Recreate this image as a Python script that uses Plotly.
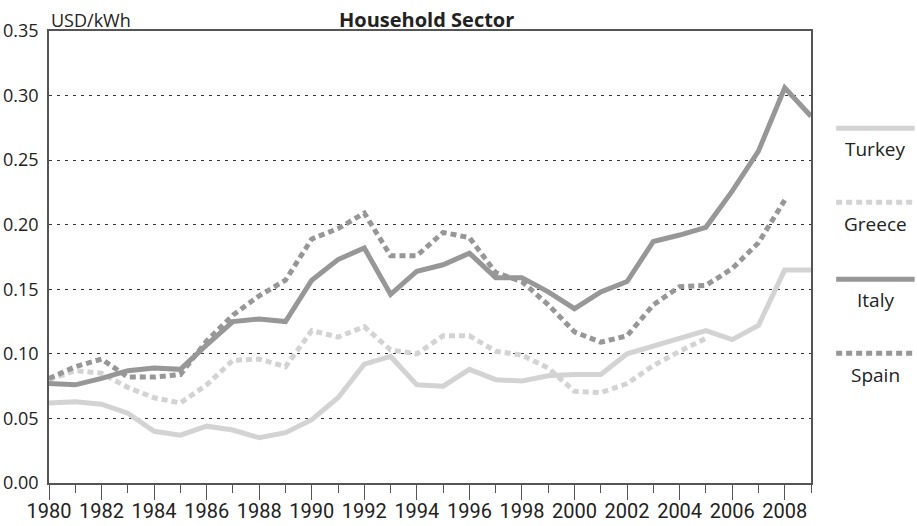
import plotly.graph_objects as go

# Greyscale palette
LIGHT = "#d3d3d3"
DARK = "#979797"
AXIS = "#555555"
GRID = "#333333"
TEXT = "#222222"

FONT = "'Open Sans', 'DejaVu Sans', sans-serif"
YEAR_FONT = "Roboto, 'Open Sans', sans-serif"

years = list(range(1980, 2010))
year_ticks = list(range(1980, 2009, 2))
y_ticks = [0.00, 0.05, 0.10, 0.15, 0.20, 0.25, 0.30, 0.35]

names = ["Turkey", "Greece", "Italy", "Spain"]

turkey = [0.062, 0.063, 0.061, 0.054, 0.040, 0.037, 0.044, 0.041, 0.035, 0.039,
          0.049, 0.066, 0.092, 0.098, 0.076, 0.075, 0.088, 0.080, 0.079, 0.083,
          0.084, 0.084, 0.100, 0.106, 0.111, 0.118, 0.111, 0.122, 0.165, 0.165]

greece = [0.080, 0.087, 0.085, 0.074, 0.066, 0.062, 0.076, 0.095, 0.096, 0.090,
          0.118, 0.113, 0.121, 0.103, 0.100, 0.114, 0.114, 0.102, 0.099, 0.089,
          0.071, 0.070, 0.077, 0.091, 0.102, 0.112, None, None, None, None]

italy = [0.077, 0.076, 0.081, 0.087, 0.089, 0.088, 0.107, 0.125, 0.127, 0.125,
         0.157, 0.173, 0.182, 0.146, 0.164, 0.169, 0.178, 0.159, 0.159, 0.148,
         0.135, 0.148, 0.156, 0.187, 0.192, 0.198, 0.226, 0.257, 0.306, 0.284]

spain = [0.081, 0.090, 0.096, 0.082, 0.082, 0.084, 0.110, 0.130, 0.145, 0.157,
         0.189, 0.197, 0.209, 0.176, 0.176, 0.194, 0.190, 0.163, 0.156, 0.138,
         0.117, 0.109, 0.114, 0.138, 0.152, 0.153, 0.166, 0.186, 0.219, None]

series = [turkey, greece, italy, spain]
colors = [LIGHT, LIGHT, DARK, DARK]
dashes = ["solid", "6px,4px", "solid", "6px,4px"]

fig = go.Figure()
for name, vals, col, dash in zip(names, series, colors, dashes):
    fig.add_trace(go.Scatter(
        x=years, y=vals, name=name, mode="lines",
        line=dict(color=col, width=5, dash=dash),
        connectgaps=False,
    ))

# hand-made legend: a key line with the name underneath
key_y = [0.785, 0.621, 0.451, 0.287]
for name, col, dash, ky in zip(names, colors, dashes, key_y):
    fig.add_shape(type="line", xref="paper", yref="paper",
                  x0=1.033, x1=1.136, y0=ky, y1=ky,
                  line=dict(color=col, width=5, dash=dash))
    fig.add_annotation(xref="paper", yref="paper", x=1.084, y=ky - 0.047,
                       text=name, showarrow=False, xanchor="center", yanchor="middle",
                       font=dict(family=FONT, size=19, color=TEXT))

fig.add_annotation(xref="paper", yref="paper", x=0, y=1.0, xanchor="left", yanchor="bottom",
                   text="USD/kWh", showarrow=False, yshift=-3,
                   font=dict(family=FONT, size=18, color=TEXT))
fig.add_annotation(xref="paper", yref="paper", x=0.495, y=1.0, xanchor="center", yanchor="bottom",
                   text="<b>Household Sector</b>", showarrow=False, yshift=-4,
                   font=dict(family=FONT, size=20, color=TEXT))

fig.update_layout(
    width=917, height=526,
    paper_bgcolor="white", plot_bgcolor="white",
    font=dict(family=FONT, color=TEXT),
    showlegend=False,
    margin=dict(l=49, r=106, t=31, b=43, pad=0, autoexpand=False),
    xaxis=dict(
        range=[1980, 2009], tickvals=year_ticks, ticktext=[str(y) for y in year_ticks],
        ticks="outside", ticklen=15, tickcolor=AXIS, tickwidth=1.2, tickangle=0,
        minor=dict(dtick=1, ticks="outside", ticklen=8, tickcolor=AXIS, tickwidth=1.2,
                   showgrid=False),
        showline=True, linecolor=AXIS, linewidth=1.5, mirror=True,
        showgrid=False, zeroline=False, automargin=False, ticklabelstandoff=-6,
        tickfont=dict(family=YEAR_FONT, size=20, color=TEXT),
    ),
    yaxis=dict(
        range=[0, 0.35], tickvals=y_ticks, tickformat=".2f",
        ticks="", showline=True, linecolor=AXIS, linewidth=1.5, mirror=True,
        showgrid=True, gridcolor=GRID, gridwidth=1, griddash="3px,5px",
        zeroline=False, ticklabelstandoff=5, automargin=False,
        tickfont=dict(family=FONT, size=18, color=TEXT),
    ),
)

fig.write_html("out.html", config={"displayModeBar": False},
               post_script="document.body.style.margin='0';")
